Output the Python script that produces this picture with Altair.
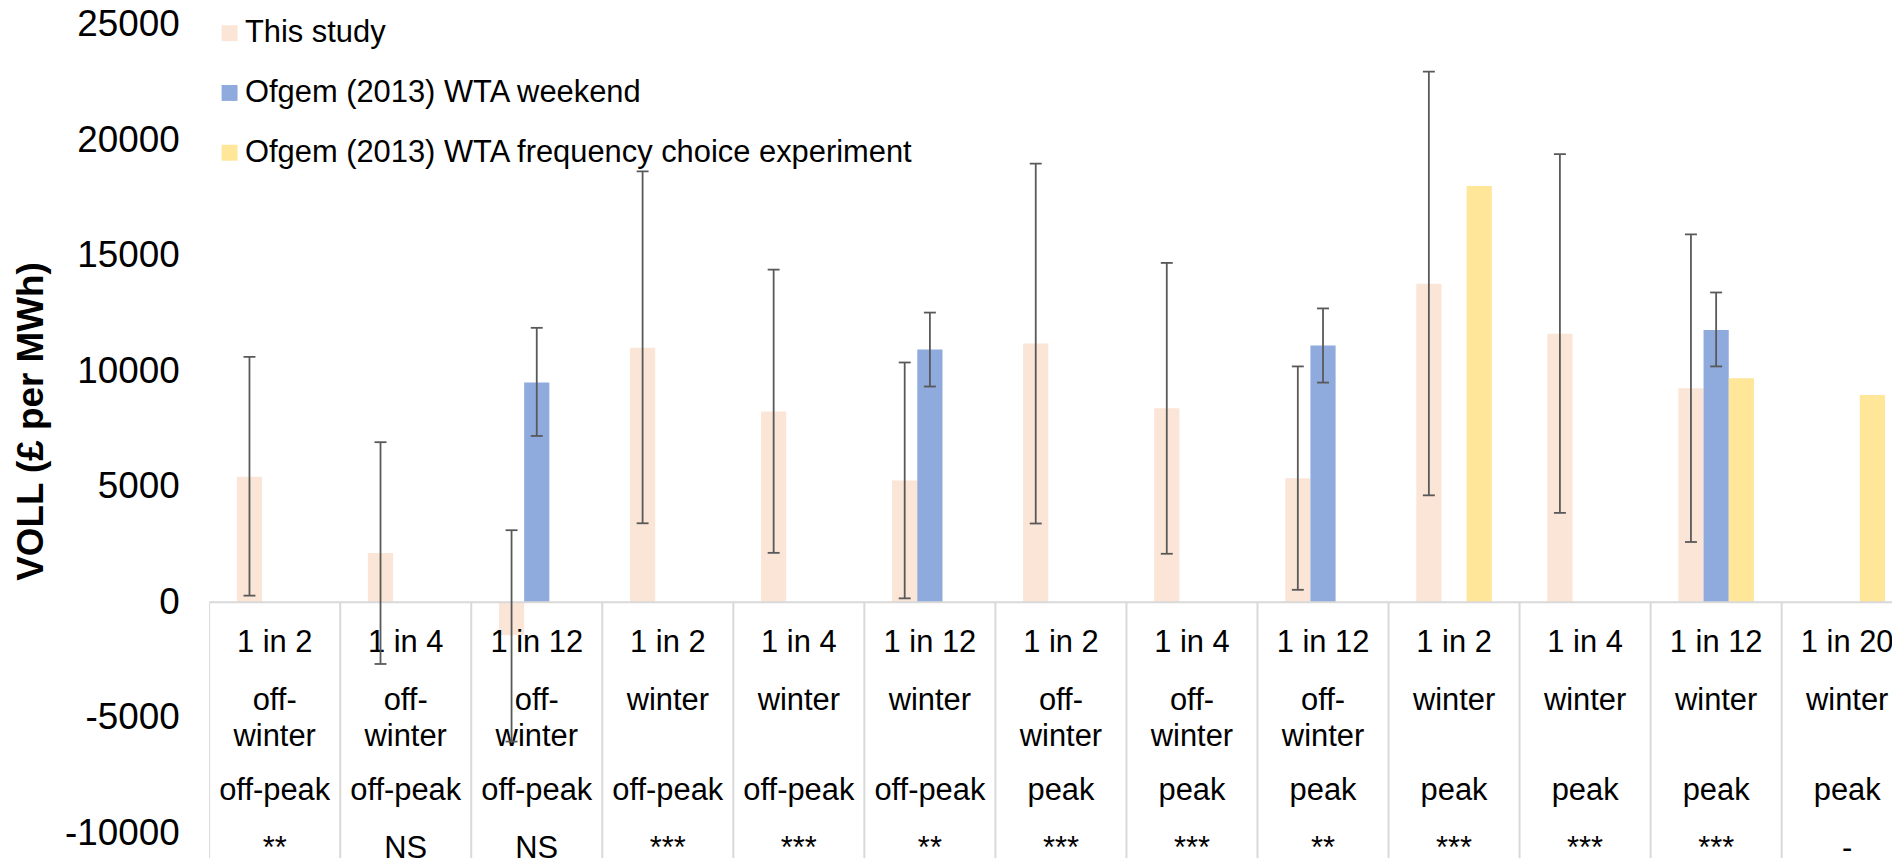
import altair as alt
import pandas as pd

# ---------------- data ----------------
categories_freq = ["1 in 2", "1 in 4", "1 in 12", "1 in 2", "1 in 4", "1 in 12",
                   "1 in 2", "1 in 4", "1 in 12", "1 in 2", "1 in 4", "1 in 12", "1 in 20"]
categories_season = ["off-winter", "off-winter", "off-winter", "winter", "winter", "winter",
                     "off-winter", "off-winter", "off-winter", "winter", "winter", "winter", "winter"]
categories_time = ["off-peak", "off-peak", "off-peak", "off-peak", "off-peak", "off-peak",
                   "peak", "peak", "peak", "peak", "peak", "peak", "peak"]
significance = ["**", "NS", "NS", "***", "***", "**", "***", "***", "**", "***", "***", "***", "-"]

series_names = ["This study", "Ofgem (2013) WTA weekend",
                "Ofgem (2013) WTA frequency choice experiment"]

this_study = [5430, 2130, -1420, 11020, 8260, 5270, 11200, 8400, 5370, 13790, 11620, 9270, None]
this_study_low = [290, -2670, -6030, 3420, 2140, 170, 3410, 2100, 540, 4630, 3870, 2610, None]
this_study_high = [10620, 6930, 3120, 18650, 14400, 10380, 18990, 14690, 10210, 22970, 19400, 15930, None]

weekend = [None, None, 9510, None, None, 10940, None, None, 11110, None, None, 11790, None]
weekend_low = [None, None, 7200, None, None, 9340, None, None, 9510, None, None, 10210, None]
weekend_high = [None, None, 11880, None, None, 12540, None, None, 12720, None, None, 13410, None]

frequency = [None, None, None, None, None, None, None, None, None, 18020, None, 9700, 8970]

y_tick_values = [-10000, -5000, 0, 5000, 10000, 15000, 20000, 25000]

# ---------------- tables ----------------
rows = []
for s_i, (vals, lows, highs) in enumerate([
        (this_study, this_study_low, this_study_high),
        (weekend, weekend_low, weekend_high),
        (frequency, [None] * 13, [None] * 13)]):
    for c_i, v in enumerate(vals):
        if v is None:
            continue
        rows.append({"cat": c_i, "series": series_names[s_i], "order": s_i,
                     "value": v, "low": lows[c_i], "high": highs[c_i], "zero": 0})
df = pd.DataFrame(rows)

cats = pd.DataFrame({"cat": list(range(len(categories_freq))), "freq": categories_freq,
                     "season": categories_season, "time": categories_time, "sig": significance})
bounds = pd.DataFrame({"b": list(range(len(categories_freq) + 1)), "zero": 0})
axis_line = pd.DataFrame({"a": [0], "b": [len(categories_freq)], "zero": [0]})

# ---------------- layout constants ----------------
W, H = 1690, 852
CAT_PX = 131.6
BW = 25.3 / CAT_PX     # bar width in category units
CAP = 6.0 / CAT_PX     # half cap width
FONT = "Liberation Sans, Arial, sans-serif"
colors = ["#FBE5D6", "#8FAADC", "#FFE699"]
GRAY = "#D9D9D9"
ERR = "#595959"

X = alt.Scale(domain=[0, W / CAT_PX], nice=False, zero=False)
Y = alt.Scale(domain=[(603 - 860) / 0.0232, (603 - 8) / 0.0232], nice=False, zero=False)

yaxis = alt.Axis(values=y_tick_values, labelExpr="'' + datum.value", labelFontSize=37,
                 labelFont=FONT, labelColor="black", labelPadding=30, labelOverlap=False,
                 labelFlush=False, ticks=False, domain=False, grid=False,
                 title="VOLL (£ per MWh)", titleFont=FONT, titleFontSize=37,
                 titleFontWeight="bold", titleColor="black", titleAngle=270,
                 titleX=-178, titleY=413, titleAlign="center", titleBaseline="middle")

legend = alt.Legend(orient="none", legendX=4, legendY=8, title=None, direction="vertical",
                    symbolType="square", symbolSize=256, symbolStrokeWidth=0, symbolOpacity=1,
                    symbolOffset=1,
                    labelFont=FONT, labelFontSize=31, labelColor="black", labelLimit=1200,
                    labelOffset=0, rowPadding=28, padding=0)

base = alt.Chart(df).transform_calculate(
    xc=f"datum.cat + 0.5 + (datum.order - 1) * {BW}",
).transform_calculate(
    x0=f"datum.xc - {BW / 2}", x1=f"datum.xc + {BW / 2}",
    cl=f"datum.xc - {CAP}", cr=f"datum.xc + {CAP}",
)

bars = base.mark_rect(clip=True).encode(
    x=alt.X("x0:Q", scale=X, axis=None), x2="x1:Q",
    y=alt.Y("value:Q", scale=Y, axis=yaxis), y2="zero:Q",
    color=alt.Color("series:N", scale=alt.Scale(domain=series_names, range=colors), legend=legend),
)

hline = alt.Chart(axis_line).mark_rule(color=GRAY, strokeWidth=2, clip=True).encode(
    x=alt.X("a:Q", scale=X, axis=None), x2="b:Q",
    y=alt.Y("zero:Q", scale=Y, axis=yaxis),
)

vlines = alt.Chart(bounds).mark_rule(color=GRAY, strokeWidth=2, clip=True).encode(
    x=alt.X("b:Q", scale=X, axis=None),
    y=alt.Y("zero:Q", scale=Y, axis=yaxis), y2=alt.value(H),
)

tbase = alt.Chart(cats).transform_calculate(
    mid="datum.cat + 0.5",
    s1="datum.season == 'off-winter' ? 'off-' : 'winter'",
    s2="datum.season == 'off-winter' ? 'winter' : ''",
)
tstyle = dict(font=FONT, fontSize=31, color="black", align="center", baseline="alphabetic", clip=True)
text_layers = []
for field, ypix in [("freq", 645), ("s1", 703), ("s2", 739), ("time", 794), ("sig", 852)]:
    text_layers.append(tbase.mark_text(**tstyle).encode(
        x=alt.X("mid:Q", scale=X, axis=None), y=alt.value(ypix), text=f"{field}:N"))

errbase = base.transform_filter("datum.low != null")
err = errbase.mark_rule(color=ERR, strokeWidth=1.8, clip=True).encode(
    x=alt.X("xc:Q", scale=X, axis=None),
    y=alt.Y("low:Q", scale=Y, axis=yaxis), y2="high:Q",
)
cap_lo = errbase.mark_rule(color=ERR, strokeWidth=1.8, clip=True).encode(
    x=alt.X("cl:Q", scale=X, axis=None), x2="cr:Q",
    y=alt.Y("low:Q", scale=Y, axis=yaxis),
)
cap_hi = errbase.mark_rule(color=ERR, strokeWidth=1.8, clip=True).encode(
    x=alt.X("cl:Q", scale=X, axis=None), x2="cr:Q",
    y=alt.Y("high:Q", scale=Y, axis=yaxis),
)

chart = alt.layer(bars, hline, vlines, *text_layers, err, cap_lo, cap_hi).properties(
    width=W, height=H,
    autosize=alt.AutoSizeParams(type="none"),
    padding={"left": 202, "top": 0, "right": 0, "bottom": 0},
    background="white",
).configure_view(stroke=None)

chart.save("out.html", embed_options={"renderer": "svg", "actions": False})
